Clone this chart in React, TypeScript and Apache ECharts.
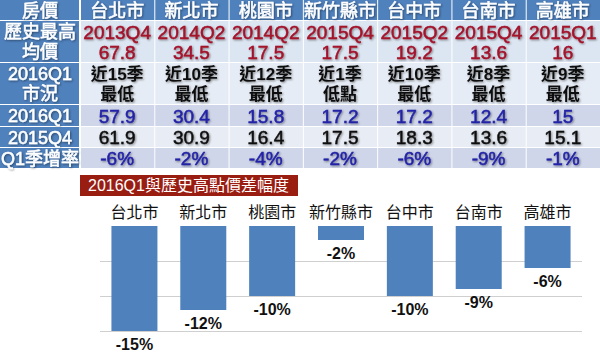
import React, { useEffect, useRef } from "react";
import * as echarts from "echarts";

const rowHeaders = ["房價", "歷史最高|均價", "2016Q1|市況", "2016Q1", "2015Q4", "Q1季增率"];
const cities = ["台北市", "新北市", "桃園市", "新竹縣市", "台中市", "台南市", "高雄市"];
const peakQuarters = ["2013Q4", "2014Q2", "2014Q2", "2015Q4", "2015Q2", "2015Q4", "2015Q1"];
const peakPrices = ["67.8", "34.5", "17.5", "17.5", "19.2", "13.6", "16"];
const statusLine1 = ["近15季", "近10季", "近12季", "近1季", "近10季", "近8季", "近9季"];
const statusLine2 = ["最低", "最低", "最低", "低點", "最低", "最低", "最低"];
const price2016Q1 = ["57.9", "30.4", "15.8", "17.2", "17.2", "12.4", "15"];
const price2015Q4 = ["61.9", "30.9", "16.4", "17.5", "18.3", "13.6", "15.1"];
const qoqRates = [-6, -2, -4, -2, -6, -9, -1];
const diffFromPeak = [-15, -12, -10, -2, -10, -9, -6];
const chartTitle = "2016Q1與歷史高點價差幅度";

const FONT = "'Liberation Sans', 'Noto Sans CJK TC', sans-serif";
const BLUE_HEAD = "#4F81BD";
const RED_TEXT = "#A3122A";
const BLUE_TEXT = "#2323A6";

function buildTable(): any[] {
  const els: any[] = [];
  const colX0 = 80;
  const colW = (600 - colX0) / cities.length;
  const rowY = [0, 21, 63, 105, 127, 148, 169];
  const rowBg = [BLUE_HEAD, "#DCE6F2", "#E6ECF5", "#CFD6E9", "#E8ECF4", "#CFD6E9"];
  const shadow = {
    textShadowColor: "rgba(0,0,0,0.45)",
    textShadowBlur: 2,
    textShadowOffsetX: 1,
    textShadowOffsetY: 1,
  };
  const txt = (
    s: string,
    x: number,
    y: number,
    fill: string,
    size = 19,
    weight: any = "normal",
    strokeW = 0.5
  ) => ({
    type: "text",
    x,
    y,
    silent: true,
    style: {
      text: s,
      fill,
      stroke: strokeW > 0 ? fill : undefined,
      lineWidth: strokeW,
      fontSize: size,
      fontFamily: FONT,
      fontWeight: weight,
      align: "center",
      verticalAlign: "middle",
      ...shadow,
    },
  });
  for (let r = 0; r < rowHeaders.length; r++) {
    const y0 = rowY[r];
    const h = rowY[r + 1] - y0;
    els.push({
      type: "rect",
      silent: true,
      shape: { x: 0, y: y0, width: colX0 - 1, height: h - 1 },
      style: { fill: BLUE_HEAD },
    });
    const parts = rowHeaders[r].split("|");
    if (parts.length === 2) {
      els.push(txt(parts[0], colX0 / 2, y0 + h * 0.27, "#fff", 18));
      els.push(txt(parts[1], colX0 / 2, y0 + h * 0.74, "#fff", 18));
    } else {
      els.push(txt(parts[0], colX0 / 2, y0 + h / 2, "#fff", 18));
    }
    for (let c = 0; c < cities.length; c++) {
      const x0 = colX0 + c * colW;
      const cx = x0 + colW / 2;
      els.push({
        type: "rect",
        silent: true,
        shape: { x: x0 + 1, y: y0, width: colW - 1, height: h - 1 },
        style: { fill: rowBg[r] },
      });
      if (r === 0) els.push(txt(cities[c], cx, y0 + h / 2, "#fff", 18));
      if (r === 1) {
        els.push(txt(peakQuarters[c], cx, y0 + h * 0.27, RED_TEXT));
        els.push(txt(peakPrices[c], cx, y0 + h * 0.74, RED_TEXT));
      }
      if (r === 2) {
        els.push(txt(statusLine1[c], cx, y0 + h * 0.27, "#111", 17, "bold", 0));
        els.push(txt(statusLine2[c], cx, y0 + h * 0.74, "#111", 17, "bold", 0));
      }
      if (r === 3) els.push(txt(price2016Q1[c], cx, y0 + h / 2, BLUE_TEXT));
      if (r === 4) els.push(txt(price2015Q4[c], cx, y0 + h / 2, "#111"));
      if (r === 5) els.push(txt(qoqRates[c] + "%", cx, y0 + h / 2, BLUE_TEXT));
    }
  }
  els.push({
    type: "rect",
    silent: true,
    shape: { x: 80, y: 175, width: 218, height: 21 },
    style: { fill: "#9A1D12" },
  });
  els.push({
    type: "text",
    silent: true,
    x: 88,
    y: 185.5,
    style: {
      text: chartTitle,
      fill: "#fff",
      fontSize: 16,
      fontFamily: FONT,
      align: "left",
      verticalAlign: "middle",
    },
  });
  return els;
}

export default function App() {
  const ref = useRef<HTMLDivElement>(null);
  useEffect(() => {
    if (!ref.current) return;
    const chart = echarts.init(ref.current, null, { renderer: "svg" });
    chart.setOption({
      animation: false,
      backgroundColor: "#fff",
      grid: { left: 100, right: 18, top: 226, bottom: 22 },
      xAxis: {
        type: "category",
        data: cities,
        position: "top",
        axisLine: { show: false },
        axisTick: { show: false },
        axisLabel: { interval: 0, fontSize: 16, color: "#111", margin: 6, fontFamily: FONT },
      },
      yAxis: {
        type: "value",
        min: -15,
        max: 0,
        interval: 5,
        axisLabel: { show: false },
        axisLine: { show: false },
        axisTick: { show: false },
        splitLine: {
          show: true,
          showMaxLine: false,
          showMinLine: true,
          lineStyle: { color: "#CFCFCF", width: 1 },
        },
      },
      series: [
        {
          type: "bar",
          data: diffFromPeak,
          barWidth: 46,
          itemStyle: { color: "#4F81BD" },
          label: {
            show: true,
            position: "bottom",
            distance: 5,
            formatter: "{c}%",
            fontSize: 16,
            fontWeight: "bold",
            color: "#111",
            fontFamily: FONT,
          },
        },
      ],
      graphic: buildTable(),
    });
    return () => chart.dispose();
  }, []);
  return (
    <div
      ref={ref}
      style={{ position: "fixed", left: 0, top: 0, width: 600, height: 353, background: "#fff" }}
    />
  );
}
